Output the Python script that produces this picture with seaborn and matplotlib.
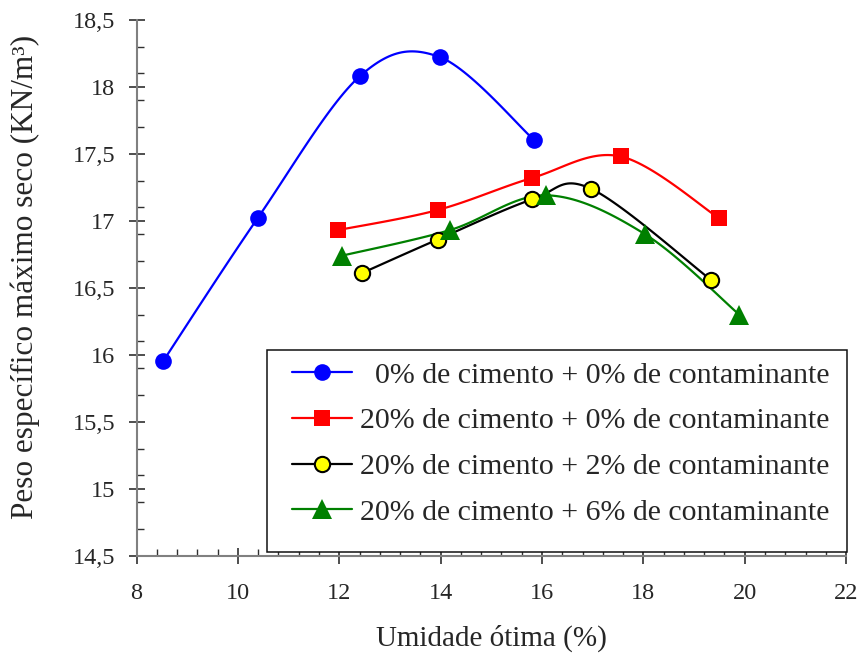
import numpy as np
import matplotlib
matplotlib.use("Agg")
import matplotlib.pyplot as plt
from matplotlib.lines import Line2D
from matplotlib.patches import Rectangle
from matplotlib.ticker import MultipleLocator, FixedLocator, FuncFormatter
import seaborn as sns

# data
umid_0_0 = [8.52, 10.39, 12.41, 13.99, 15.85]
peso_0_0 = [15.95, 17.02, 18.08, 18.22, 17.60]

umid_20_0 = [11.97, 13.94, 15.81, 17.55, 19.49]
peso_20_0 = [16.93, 17.08, 17.32, 17.48, 17.02]

umid_20_2 = [12.45, 13.94, 15.81, 16.96, 19.33]
peso_20_2 = [16.61, 16.86, 17.16, 17.24, 16.56]

umid_20_6 = [12.06, 14.18, 16.08, 18.03, 19.89]
peso_20_6 = [16.74, 16.93, 17.19, 16.90, 16.30]

labels = ["  0% de cimento + 0% de contaminante",
          "20% de cimento + 0% de contaminante",
          "20% de cimento + 2% de contaminante",
          "20% de cimento + 6% de contaminante"]


def smooth(x, y, n=30):
    # Excel-style smoothed line (cubic Bezier / Catmull-Rom through the points)
    p = np.column_stack([x, y]).astype(float)
    out = [p[0]]
    for i in range(len(p) - 1):
        p0 = p[i - 1] if i > 0 else p[i]
        p3 = p[i + 2] if i + 2 < len(p) else p[i + 1]
        c1 = p[i] + (p[i + 1] - p0) / 6
        c2 = p[i + 1] - (p3 - p[i]) / 6
        t = np.linspace(0, 1, n)[1:, None]
        seg = ((1 - t) ** 3) * p[i] + 3 * ((1 - t) ** 2) * t * c1 \
            + 3 * (1 - t) * t ** 2 * c2 + t ** 3 * p[i + 1]
        out.extend(seg)
    out = np.array(out)
    return out[:, 0], out[:, 1]


sns.set_style("ticks")
plt.rcParams["font.family"] = ["Liberation Serif", "DejaVu Serif"]

fig = plt.figure(figsize=(8.59, 6.57), dpi=100)
ax = fig.add_axes([0.159, 0.154, 0.826, 0.816])

series = [
    (umid_0_0, peso_0_0, "#0000ff", "o", "#0000ff", "#0000ff", 12, 0.0),
    (umid_20_0, peso_20_0, "#ff0000", "s", "#ff0000", "#ff0000", 12, 0.0),
    (umid_20_2, peso_20_2, "#000000", "o", "#ffff00", "#000000", 11, 1.5),
    (umid_20_6, peso_20_6, "#008000", "^", "#008000", "#008000", 14, 0.0),
]

handles = []
for (xs, ys, lc, mk, fc, ec, ms, mew), lab in zip(series, labels):
    sx, sy = smooth(xs, ys)
    sns.lineplot(x=sx, y=sy, sort=False, estimator=None, color=lc,
                 linewidth=1.6, ax=ax)
    ax.plot(xs, ys, linestyle="none", marker=mk, markersize=ms,
            markerfacecolor=fc, markeredgecolor=ec, markeredgewidth=mew,
            zorder=5)
    handles.append(Line2D([], [], color=lc, linewidth=1.6, marker=mk,
                          markersize=ms, markerfacecolor=fc,
                          markeredgecolor=ec, markeredgewidth=mew))

ax.set_xlim(8, 22)
ax.set_ylim(14.5, 18.5)
ax.xaxis.set_major_locator(MultipleLocator(2))
ax.xaxis.set_minor_locator(FixedLocator(np.arange(8, 22.01, 0.4)))
ax.yaxis.set_major_locator(MultipleLocator(0.5))
ax.yaxis.set_minor_locator(FixedLocator(np.arange(14.5, 18.51, 0.2)))
ax.yaxis.set_major_formatter(FuncFormatter(lambda v, p: f"{v:g}".replace(".", ",")))

for side in ["top", "right"]:
    ax.spines[side].set_visible(False)
for side in ["left", "bottom"]:
    ax.spines[side].set_color("#808080")
    ax.spines[side].set_linewidth(1.5)

ax.tick_params(which="major", direction="inout", length=11, width=1.2,
               color="#303030", labelsize=17.5)
ax.tick_params(axis="x", which="major", pad=14)
ax.tick_params(axis="y", which="major", pad=10)
ax.tick_params(which="minor", direction="in", length=5, width=1.0,
               color="#303030")

ax.set_xlabel("Umidade ótima (%)", fontsize=21, labelpad=15)
ax.set_ylabel("Peso específico máximo seco (KN/m³)", fontsize=22.5)
ax.yaxis.set_label_coords(-0.136, 0.52)

# legend frame drawn separately so the inner padding can match
ax.add_patch(Rectangle((0.184, 0.0075), 0.8174, 0.3769, transform=ax.transAxes,
                       facecolor="white", edgecolor="#111111", linewidth=1.1,
                       clip_on=False, zorder=4.5))
leg = ax.legend(handles, labels, loc="center left",
                bbox_to_anchor=(0.2192, 0.209), fontsize=21.5, frameon=False,
                handlelength=2.0, handletextpad=0.27, labelspacing=0.63,
                borderpad=0.0, borderaxespad=0.0)

fig.savefig("out.png", dpi=100)
